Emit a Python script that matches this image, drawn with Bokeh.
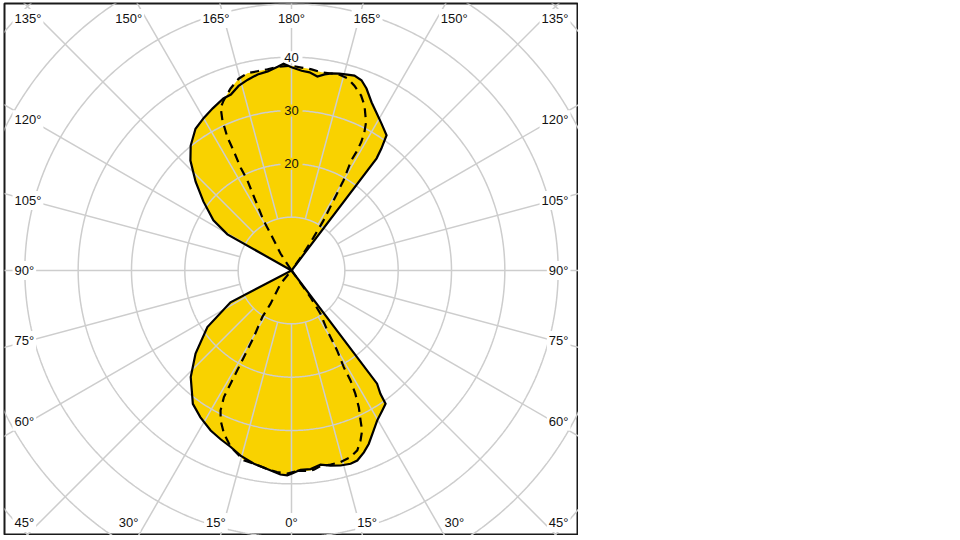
import numpy as np
from bokeh.plotting import figure
from bokeh.models import Range1d
from bokeh.embed import file_html
from bokeh.resources import INLINE
from bokeh.core.properties import value

# ---------------- data (angle in degrees: 0 = down, 90 = right, 180 = up, 270 = left) -------------
solid_angle = [0, 2.6, 5.5, 8.5, 11.3, 14.1, 17.0, 19.1, 21.7, 24.0, 27.2, 29.7, 32.9, 35.2, 35.8, 37.1, 90,
               142.8, 143.6, 144.9, 148.5, 151.7, 154.5, 157.6, 159.8, 162.1, 164.1, 166.3, 168.5, 170.4, 172.4,
               174.8, 177.1, 180,
               182.2, 183.9, 186.8, 189.8, 192.9, 196.0, 199.0, 201.6, 205.9, 209.9, 214.1, 218.9, 222.6, 227.2,
               231.9, 237.3, 240.6, 270,
               297.5, 303.9, 310.9, 316.6, 323.5, 328.2, 333.2, 337.1, 341.0, 344.6, 349.0, 353.0, 356.9, 358.8]
solid_value = [38.1, 37.4, 37.4, 36.8, 37.3, 37.7, 37.9, 37.7, 36.7, 35.6, 33.7, 32.4, 31.3, 30.6, 28.5, 26.6, 0,
               26.4, 28.4, 31.0, 32.3, 33.6, 34.9, 36.9, 38.0, 38.4, 38.2, 38.0, 37.7, 37.3, 36.7,
               37.3, 37.5, 38.1,
               38.8, 38.3, 37.6, 37.3, 36.7, 36.0, 34.9, 34.7, 33.8, 33.0, 32.1, 30.1, 28.0, 24.5,
               21.0, 17.4, 13.8, 0,
               12.9, 19.0, 23.8, 27.5, 31.1, 32.4, 33.6, 34.3, 35.0, 36.0, 36.9, 37.5, 38.3, 38.4]

dashed_angle = [1.6, 4.5, 6.4, 8.4, 11.4, 14.3, 17.5, 20.1, 22.1, 23.8, 24.7, 26.2, 27.4, 28.2, 28.4, 29.7,
                30.8, 33.8, 35.4, 36.0, 90,
                144.8, 146.3, 147.4, 149.0, 150.0, 151.5, 151.3, 151.5, 152.2, 153.3, 156.1, 158.3, 161.2,
                163.6, 166.2, 168.5, 171.4, 174.3, 177.2, 180,
                183.9, 186.8, 189.7, 192.6, 195.4, 198.5, 201.8, 203.5, 204.7, 205.7, 205.8, 206.3, 206.1,
                207.2, 209.2, 209.6, 212.9, 270,
                320.4, 327.8, 327.9, 330.5, 331.2, 331.5, 331.7, 331.9, 333.1, 334.7, 337.5, 341.0, 345.9,
                349.0, 353.0, 355.9, 358.8]
dashed_value = [37.6, 37.7, 37.6, 37.1, 37.1, 37.1, 36.7, 35.9, 34.4, 32.8, 31.0, 28.6, 26.0, 23.4, 20.6, 17.3,
                13.1, 9.8, 6.1, 2.3, 0,
                3.9, 7.4, 11.1, 15.3, 19.5, 23.5, 25.3, 27.4, 29.3, 31.1, 33.8, 35.3, 36.6,
                37.5, 37.8, 37.7, 37.6, 37.9, 38.1, 38.4,
                38.3, 38.0, 37.9, 37.9, 37.3, 36.0, 34.3, 33.3, 31.0, 27.7, 25.0, 21.5, 18.8,
                14.8, 10.7, 8.0, 3.8, 0,
                3.2, 7.4, 10.3, 14.4, 18.6, 21.3, 24.1, 26.9, 29.4, 31.1, 33.1, 35.0, 36.7,
                36.9, 37.5, 37.9, 38.1]

ring_values = [10, 20, 30, 40, 50, 60, 70]
ring_label_values = [20, 30, 40]
ring_label_texts = ["20", "30", "40"]
spoke_angles = list(range(0, 360, 15))

# ---------------- geometry / style ----------------
PX = 160.0 / 30.0          # pixels per intensity unit
ML, MT = 4, 3              # border offsets of the frame
FW, FH = 574, 532          # frame size
CX, CY = 287, 267          # center position inside frame (px from left / top)
YELLOW = "#F9D200"
GRID = "#CDCDCD"
FONT = value("Liberation Sans")
FSIZE = "13px"
TXT = "#111111"


def to_xy(ang, val):
    t = np.radians(np.asarray(ang, dtype=float))
    r = np.asarray(val, dtype=float)
    return r * np.sin(t), -r * np.cos(t)


p = figure(width=FW + ML, height=FH + MT,
           x_range=Range1d(-CX / PX, (FW - CX) / PX),
           y_range=Range1d(-(FH - CY) / PX, CY / PX),
           output_backend="svg", toolbar_location=None,
           x_axis_location=None, y_axis_location=None,
           min_border_left=ML, min_border_top=MT, min_border_right=0, min_border_bottom=0)
p.grid.visible = False
p.outline_line_color = "#1a1a1a"
p.outline_line_width = 2
p.background_fill_color = "white"
p.border_fill_color = "white"

# fills (union of both curves)
sx, sy = to_xy(solid_angle, solid_value)
dx_, dy_ = to_xy(dashed_angle, dashed_value)
p.patch(list(sx), list(sy), fill_color=YELLOW, line_color=None)
p.patch(list(dx_), list(dy_), fill_color=YELLOW, line_color=None)

# rings (with gaps under the value labels)
ring_xs, ring_ys = [], []
GAP_W = 11.0 / PX
GAP_H = 6.0 / PX
for r in ring_values:
    if r in ring_label_values:
        g = np.degrees(np.arcsin(GAP_W / r))
        a = np.linspace(180 + g, 540 - g, 721)
    else:
        a = np.linspace(0, 360, 721)
    x, y = to_xy(a, np.full_like(a, r))
    ring_xs.append(list(x))
    ring_ys.append(list(y))
p.multi_line(ring_xs, ring_ys, line_color=GRID, line_width=1.5)

# spokes
sp_xs, sp_ys = [], []
for a in spoke_angles:
    if a == 180:
        cuts = [ring_values[0]]
        for v in ring_label_values:
            cuts += [v - GAP_H, v + GAP_H]
        cuts.append(90)
        segs = [(cuts[i], cuts[i + 1]) for i in range(0, len(cuts), 2)]
    else:
        segs = [(ring_values[0], 90)]
    for r0, r1 in segs:
        x, y = to_xy([a, a], [r0, r1])
        sp_xs.append(list(x))
        sp_ys.append(list(y))
p.multi_line(sp_xs, sp_ys, line_color=GRID, line_width=1.5)

# value labels
p.text(x=[0] * len(ring_label_values), y=ring_label_values, text=ring_label_texts,
       text_font=FONT, text_font_size=FSIZE, text_color=TXT,
       text_align="center", text_baseline="middle")

# angle labels
DX, DY = 261 / PX, 282 / PX
groups = {"left": ([], [], []), "center": ([], [], []), "right": ([], [], [])}
for a in spoke_angles:
    t = np.radians(a)
    ux, uy = np.sin(t), -np.cos(t)
    tx = DX / abs(ux) if abs(ux) > 1e-9 else np.inf
    ty = DY / abs(uy) if abs(uy) > 1e-9 else np.inf
    txt = f"{a if a <= 180 else 360 - a}°"
    if tx <= ty:
        lx = np.sign(ux) * 279 / PX
        ly = float(np.clip(uy * tx, -252 / PX, 252 / PX))
        key = "right" if ux > 0 else "left"
    else:
        lx = ux * ty
        ly = np.sign(uy) * 252 / PX
        key = "center"
    groups[key][0].append(lx)
    groups[key][1].append(ly)
    groups[key][2].append(txt)

for key, (gx, gy, gt) in groups.items():
    p.text(x=gx, y=gy, text=gt, text_font=FONT, text_font_size=FSIZE, text_color=TXT,
           text_align=key, text_baseline="middle",
           background_fill_color="white", padding=2)

# outlines
p.line(list(sx) + [sx[0]], list(sy) + [sy[0]], line_color="black", line_width=2.2, line_join="miter")
p.line(list(dx_) + [dx_[0]], list(dy_) + [dy_[0]], line_color="black", line_width=2.2,
       line_dash="9 6", line_join="miter")

open("out.html", "w").write(file_html(p, INLINE))
